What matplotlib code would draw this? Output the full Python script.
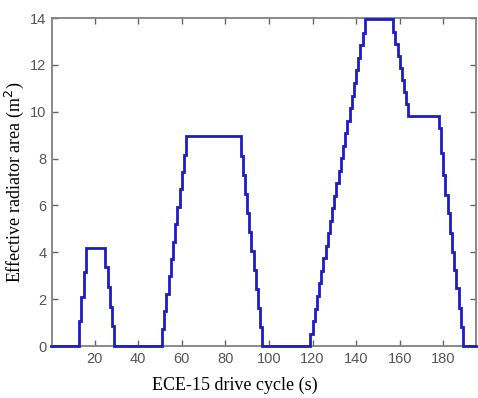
import matplotlib
matplotlib.use("Agg")
import matplotlib.pyplot as plt

# step times (s) and radiator area (m^2) held from each time on
times = [0,
         13, 14, 15, 16,
         25, 26, 27, 28, 29,
         51, 52, 53, 54, 55, 56, 57, 58, 59, 60, 61, 62,
         87, 88, 89, 90, 91, 92, 93, 94, 95, 96, 97,
         119, 120, 121, 122, 123, 124, 125, 126, 127, 128, 129, 130, 131,
         132, 133, 134, 135, 136, 137, 138, 139, 140, 141, 142, 143, 144,
         157, 158, 159, 160, 161, 162, 163, 164,
         178, 179, 180, 181, 182, 183, 184, 185, 186, 187, 188, 189,
         195]
area = [0.0,
        1.05, 2.10, 3.15, 4.20,
        3.36, 2.52, 1.68, 0.84, 0.0,
        0.74, 1.48, 2.23, 2.97, 3.71, 4.45, 5.19, 5.93, 6.68, 7.42, 8.16, 8.95,
        8.09, 7.28, 6.47, 5.66, 4.85, 4.05, 3.24, 2.43, 1.62, 0.81, 0.0,
        0.53, 1.07, 1.60, 2.14, 2.67, 3.21, 3.74, 4.28, 4.81, 5.35, 5.88, 6.42, 6.95,
        7.48, 8.02, 8.55, 9.09, 9.62, 10.16, 10.69, 11.23, 11.76, 12.30, 12.83, 13.37, 13.95,
        13.39, 12.88, 12.36, 11.85, 11.34, 10.83, 10.31, 9.82,
        9.30, 8.23, 7.31, 6.45, 5.67, 4.82, 4.03, 3.25, 2.46, 1.61, 0.82, 0.0,
        0.0]

xticks = [20, 40, 60, 80, 100, 120, 140, 160, 180]
yticks = [0, 2, 4, 6, 8, 10, 12, 14]

fig = plt.figure(figsize=(4.78, 3.98), dpi=100)
ax = fig.add_axes([52/478, 1 - 346/398, (476 - 52)/478, (346 - 18)/398])

ax.plot(times, area, drawstyle="steps-post", color="#1c1cc8", lw=2.0,
        solid_joinstyle="miter", zorder=3, clip_on=False)

ax.set_xlim(0.5, 195)
ax.set_ylim(0, 14)
ax.set_xticks(xticks)
ax.set_yticks(yticks)

tick_font = ["Liberation Sans Narrow", "Liberation Sans", "DejaVu Sans"]
for lab in ax.get_xticklabels() + ax.get_yticklabels():
    lab.set_family(tick_font)
    lab.set_fontsize(10.5)
    lab.set_color("#555555")

ax.tick_params(direction="in", length=4, width=1, color="#666666",
               top=True, right=True, pad=4)
for s in ax.spines.values():
    s.set_color("#808080")
    s.set_linewidth(1.3)

serif = ["Liberation Serif", "DejaVu Serif"]
ax.set_xlabel("ECE-15 drive cycle (s)", family=serif, fontsize=13)
ax.xaxis.set_label_coords((234.5 - 52) / 424, -(377 - 346) / 328)
ax.set_ylabel("Effective radiator area (m$^2$)", family=serif, fontsize=13)
ax.yaxis.set_label_coords(-(52 - 26) / 424, 0.5)

fig.savefig("out.png", dpi=100)
